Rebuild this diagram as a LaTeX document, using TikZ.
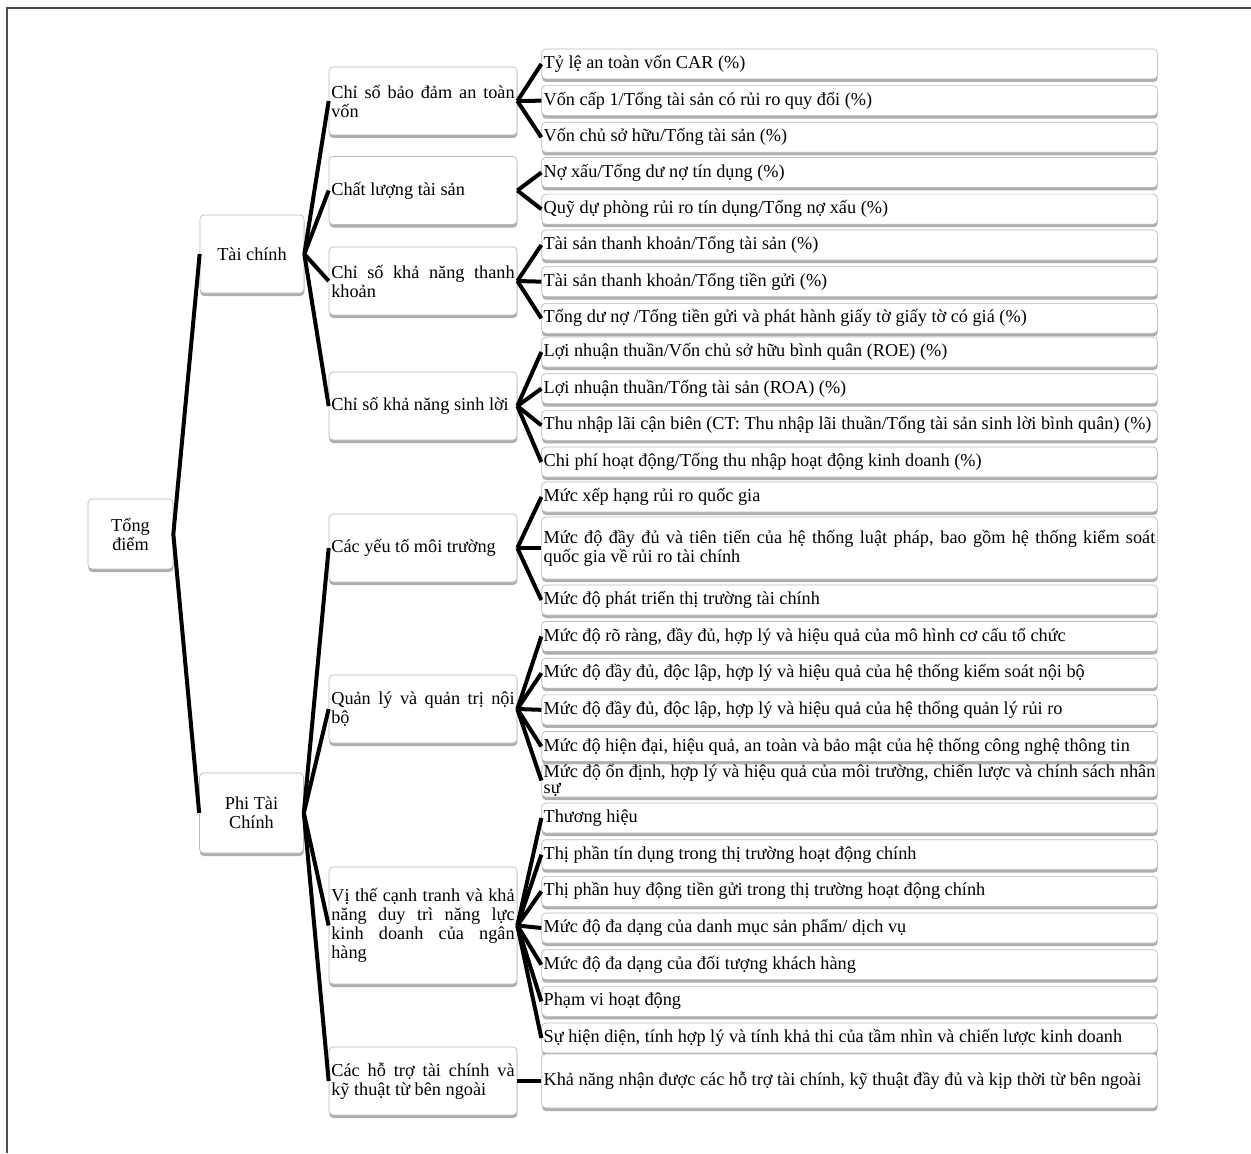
\documentclass[tikz,border=0pt]{standalone}
\usepackage{fontspec}
\setmainfont{Liberation Serif}
\usepackage{tikz}
\usetikzlibrary{positioning}
\usetikzlibrary{shadows}

\tikzset{
  box/.style={draw=gray!55, fill=white, rounded corners=2.4pt,
    drop shadow={shadow xshift=0.2pt,shadow yshift=-1.8pt,opacity=.7,fill=gray!90},
    font=\fontsize{10.95}{11.4}\selectfont, anchor=center},
  topbox/.style={box, align=center, minimum width=62.4pt, minimum height=46.8pt},
  midbox/.style={box, text width=110pt, inner xsep=1.4pt, inner ysep=1pt, align=justify, minimum height=40.8pt},
  leafbox/.style={box, text width=367pt, inner xsep=1.2pt, inner ysep=1pt, align=justify, minimum height=18pt},
  link/.style={line width=2.4pt, black},
}

\begin{document}
\begin{tikzpicture}[x=0.6pt,y=-0.6pt]

\useasboundingbox (0,0) rectangle (1251,1153);
\draw[gray!60!black, line width=1pt] (1251,8) -- (7,8) -- (7,1153);

% root and first level
\node[box, align=center, minimum width=51pt, minimum height=42pt] (total) at (130.5,534) {Tổng\\điểm};
\node[topbox] (fin) at (252,254) {Tài chính};
\node[topbox, minimum height=48pt] (nonfin) at (251.5,813) {Phi Tài\\Chính};

% second level
\node[midbox] (capital) at (423,101) {Chỉ số bảo đảm an toàn\linebreak vốn};
\node[midbox] (asset) at (423,190.5) {Chất lượng tài sản};
\node[midbox] (liquid) at (423,281) {Chỉ số khả năng thanh\linebreak khoản};
\node[midbox] (profit) at (423,406) {Chỉ số khả năng sinh lời};
\node[midbox] (envir) at (423,548) {Các yếu tố môi trường};
\node[midbox] (govern) at (423,709) {Quản lý và quản trị nội\linebreak bộ};
\node[midbox, minimum height=70.2pt] (compet) at (423,925.5) {Vị thế cạnh tranh và khả\linebreak năng duy trì năng lực\linebreak kinh doanh của ngân\linebreak hàng};
\node[midbox] (support) at (423,1081) {Các hỗ trợ tài chính và\linebreak kỹ thuật từ bên ngoài};

% leaves
\node[leafbox] (car) at (849.5,64) {Tỷ lệ an toàn vốn CAR (\%)};
\node[leafbox, below=3.6pt of car] (tier) {Vốn cấp 1/Tổng tài sản có rủi ro quy đổi (\%)};
\node[leafbox, below=3.6pt of tier] (equity) {Vốn chủ sở hữu/Tổng tài sản (\%)};

\node[leafbox] (npl) at (849.5,172.5) {Nợ xấu/Tổng dư nợ tín dụng (\%)};
\node[leafbox, below=3.6pt of npl] (reserve) {Quỹ dự phòng rủi ro tín dụng/Tổng nợ xấu (\%)};

\node[leafbox] (liqa) at (849.5,245) {Tài sản thanh khoản/Tổng tài sản (\%)};
\node[leafbox, below=3.6pt of liqa] (liqd) {Tài sản thanh khoản/Tổng tiền gửi (\%)};
\node[leafbox, below=3.6pt of liqd] (ldr) {Tổng dư nợ /Tổng tiền gửi và phát hành giấy tờ giấy tờ có giá (\%)};

\node[leafbox] (roe) at (849.5,352) {Lợi nhuận thuần/Vốn chủ sở hữu bình quân (ROE) (\%)};
\node[leafbox, below=3.6pt of roe] (roa) {Lợi nhuận thuần/Tổng tài sản (ROA) (\%)};
\node[leafbox, below=3.6pt of roa] (nim) {Thu nhập lãi cận biên (CT: Thu nhập lãi thuần/Tổng tài sản sinh lời bình quân) (\%)};
\node[leafbox, below=3.6pt of nim] (cir) {Chi phí hoạt động/Tổng thu nhập hoạt động kinh doanh (\%)};

\node[leafbox] (rating) at (849.5,497) {Mức xếp hạng rủi ro quốc gia};
\node[leafbox, minimum height=37.2pt] (law) at (849.5,548) {Mức độ đầy đủ và tiên tiến của hệ thống luật pháp, bao gồm hệ thống kiểm soát\linebreak quốc gia về rủi ro tài chính};
\node[leafbox] (market) at (849.5,600) {Mức độ phát triển thị trường tài chính};

\node[leafbox] (orgchart) at (849.5,636.5) {Mức độ rõ ràng, đầy đủ, hợp lý và hiệu quả của mô hình cơ cấu tổ chức};
\node[leafbox, below=3.6pt of orgchart] (control) {Mức độ đầy đủ, độc lập, hợp lý và hiệu quả của hệ thống kiểm soát nội bộ};
\node[leafbox, below=3.6pt of control] (riskmgmt) {Mức độ đầy đủ, độc lập, hợp lý và hiệu quả của hệ thống quản lý rủi ro};
\node[leafbox, below=3.6pt of riskmgmt] (itsys) {Mức độ hiện đại, hiệu quả, an toàn và bảo mật của hệ thống công nghệ thông tin};
\node[leafbox, inner ysep=0pt, minimum height=19.8pt, font=\fontsize{10.95}{9.6}\selectfont] (staff) at (849.5,780.5) {Mức độ ổn định, hợp lý và hiệu quả của môi trường, chiến lược và chính sách nhân\linebreak sự};

\node[leafbox] (brand) at (849.5,818) {Thương hiệu};
\node[leafbox, below=3.6pt of brand] (credit) {Thị phần tín dụng trong thị trường hoạt động chính};
\node[leafbox, below=3.6pt of credit] (deposit) {Thị phần huy động tiền gửi trong thị trường hoạt động chính};
\node[leafbox, below=3.6pt of deposit] (product) {Mức độ đa dạng của danh mục sản phẩm/ dịch vụ};
\node[leafbox, below=3.6pt of product] (customer) {Mức độ đa dạng của đối tượng khách hàng};
\node[leafbox, below=3.6pt of customer] (scope) {Phạm vi hoạt động};
\node[leafbox, below=3.6pt of scope] (vision) {Sự hiện diện, tính hợp lý và tính khả thi của tầm nhìn và chiến lược kinh doanh};

\node[leafbox, minimum height=32.4pt] (extsup) at (849.5,1081) {Khả năng nhận được các hỗ trợ tài chính, kỹ thuật đầy đủ và kịp thời từ bên ngoài};

% connectors
\draw[link] (total.east) -- (fin.west);
\draw[link] (total.east) -- (nonfin.west);

\draw[link] (fin.east) -- (capital.west);
\draw[link] (fin.east) -- (asset.west);
\draw[link] (fin.east) -- (liquid.west);
\draw[link] (fin.east) -- (profit.west);
\draw[link] (nonfin.east) -- (envir.west);
\draw[link] (nonfin.east) -- (govern.west);
\draw[link] (nonfin.east) -- (compet.west);
\draw[link] (nonfin.east) -- (support.west);

\draw[link] (capital.east) -- (car.west);
\draw[link] (capital.east) -- (tier.west);
\draw[link] (capital.east) -- (equity.west);
\draw[link] (asset.east) -- (npl.west);
\draw[link] (asset.east) -- (reserve.west);
\draw[link] (liquid.east) -- (liqa.west);
\draw[link] (liquid.east) -- (liqd.west);
\draw[link] (liquid.east) -- (ldr.west);
\draw[link] (profit.east) -- (roe.west);
\draw[link] (profit.east) -- (roa.west);
\draw[link] (profit.east) -- (nim.west);
\draw[link] (profit.east) -- (cir.west);
\draw[link] (envir.east) -- (rating.west);
\draw[link] (envir.east) -- (law.west);
\draw[link] (envir.east) -- (market.west);
\draw[link] (govern.east) -- (orgchart.west);
\draw[link] (govern.east) -- (control.west);
\draw[link] (govern.east) -- (riskmgmt.west);
\draw[link] (govern.east) -- (itsys.west);
\draw[link] (govern.east) -- (staff.west);
\draw[link] (compet.east) -- (brand.west);
\draw[link] (compet.east) -- (credit.west);
\draw[link] (compet.east) -- (deposit.west);
\draw[link] (compet.east) -- (product.west);
\draw[link] (compet.east) -- (customer.west);
\draw[link] (compet.east) -- (scope.west);
\draw[link] (compet.east) -- (vision.west);
\draw[link] (support.east) -- (extsup.west);
\end{tikzpicture}
\end{document}
